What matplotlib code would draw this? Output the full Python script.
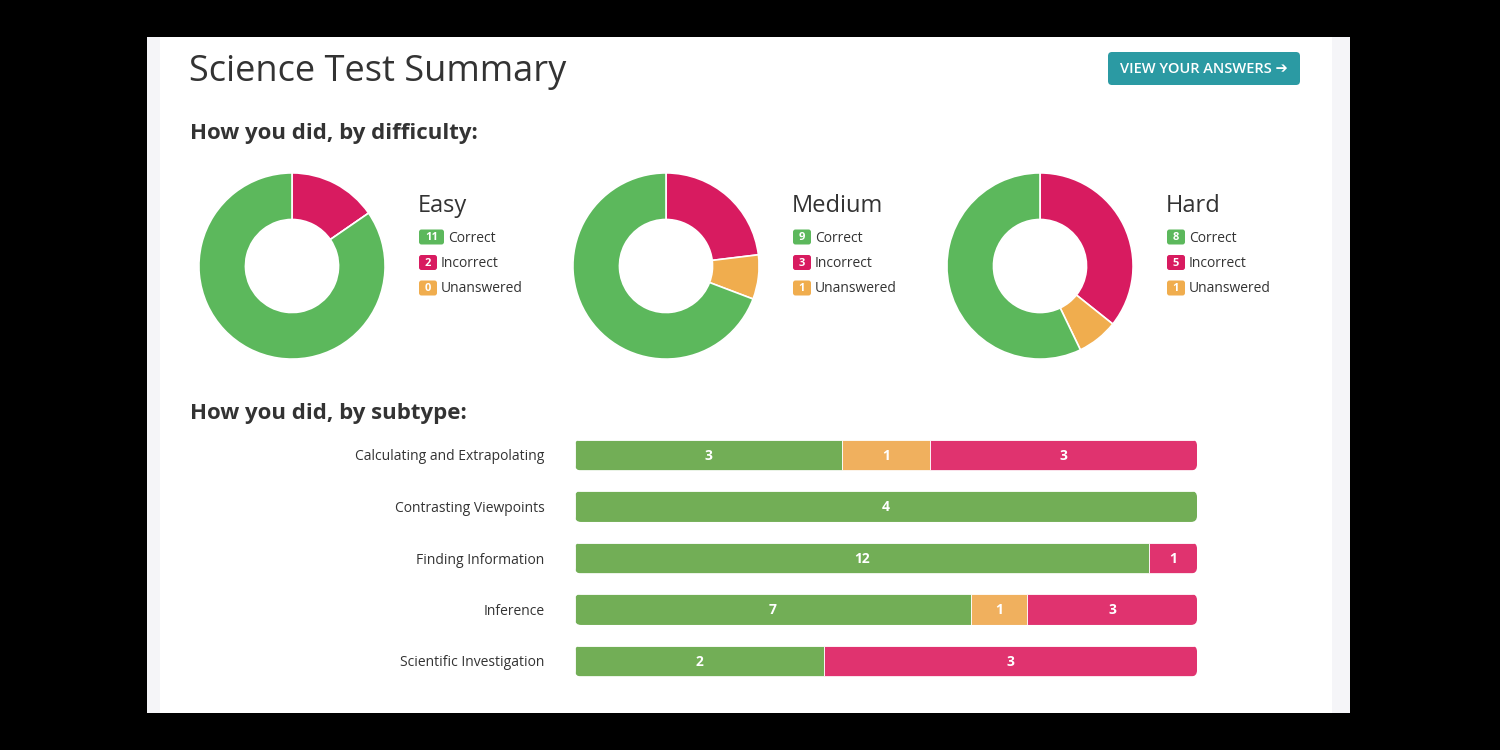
import numpy as np
import matplotlib.pyplot as plt
from matplotlib.patches import FancyBboxPatch, Rectangle

plt.rcParams['font.family'] = ['Open Sans', 'DejaVu Sans']

# data
levels = ['Easy', 'Medium', 'Hard']
correct = [11, 9, 8]
incorrect = [2, 3, 5]
unanswered = [0, 1, 1]

subtypes = ['Calculating and Extrapolating', 'Contrasting Viewpoints',
            'Finding Information', 'Inference', 'Scientific Investigation']
sub_correct = [3, 4, 12, 7, 2]
sub_unanswered = [1, 0, 0, 1, 0]
sub_incorrect = [3, 0, 1, 3, 3]

GREEN = '#5cb85c'
RED = '#d81b60'
ORANGE = '#f0ad4e'
BAR_GREEN = '#72ae56'
BAR_RED = '#e0336f'
BAR_ORANGE = '#f0b05e'
TXT = '#333333'

W, H = 1500, 750
fig = plt.figure(figsize=(15, 7.5), dpi=100, facecolor='black')

# background / page layer in pixel coords
bg = fig.add_axes([0, 0, 1, 1])
bg.set_xlim(0, W)
bg.set_ylim(H, 0)
bg.axis('off')
bg.add_patch(Rectangle((147, 37), 1203, 676, fc='white', ec='none'))
bg.add_patch(Rectangle((147, 37), 13, 676, fc='#f5f5f8', ec='none'))
bg.add_patch(Rectangle((1332, 37), 18, 676, fc='#f5f5f8', ec='none'))

bg.text(189, 72, 'Science Test Summary', fontsize=26, color=TXT, va='center')

bg.add_patch(FancyBboxPatch((1108, 52), 192, 33, boxstyle='round,pad=0,rounding_size=4',
                            fc='#2b9aa3', ec='none'))
bg.text(1204, 69, 'VIEW YOUR ANSWERS \u2794', fontsize=10.5, color='white',
        weight='semibold', ha='center', va='center')

bg.text(190, 133, 'How you did, by difficulty:', fontsize=16, weight='bold',
        color=TXT, va='center')
bg.text(190, 414, 'How you did, by subtype:', fontsize=16, weight='bold',
        color=TXT, va='center')

# donuts
centers = [292, 666, 1040]
cy, R = 266, 94
for i, name in enumerate(levels):
    cx = centers[i]
    ax = fig.add_axes([(cx - R) / W, 1 - (cy + R) / H, 2 * R / W, 2 * R / H])
    ax.pie([incorrect[i], unanswered[i], correct[i]], colors=[RED, ORANGE, GREEN],
           startangle=90, counterclock=False, radius=1,
           wedgeprops=dict(width=0.5, edgecolor='white', linewidth=1.2))
    ax.set_xlim(-1.01, 1.01)
    ax.set_ylim(-1.01, 1.01)

    lx = cx + 127
    bg.text(lx - 1, 206, name, fontsize=17, color=TXT, va='center')
    rows = [(correct[i], 'Correct', GREEN), (incorrect[i], 'Incorrect', RED),
            (unanswered[i], 'Unanswered', ORANGE)]
    for j, (v, lab, col) in enumerate(rows):
        ry = 237 + j * 25.5
        bw = 11 + 7 * len(str(v))
        bg.add_patch(FancyBboxPatch((lx, ry - 7.5), bw, 15,
                                    boxstyle='round,pad=0,rounding_size=2.5',
                                    fc=col, ec='none'))
        bg.text(lx + bw / 2, ry + 0.5, str(v), fontsize=8, weight='bold', color='white',
                ha='center', va='center')
        bg.text(lx + bw + 4, ry + 1, lab, fontsize=10, color=TXT, va='center')

# stacked bars
x0, x1 = 575, 1197
step = 51.5
top = 455 - step / 2
bh = 0.6
bax = fig.add_axes([x0 / W, 1 - (top + 5 * step) / H, (x1 - x0) / W, 5 * step / H])
bax.set_xlim(0, 1)
bax.set_ylim(4.5, -0.5)
ypos = np.arange(len(subtypes))
tot = np.array(sub_correct) + np.array(sub_unanswered) + np.array(sub_incorrect)
c = np.array(sub_correct) / tot
u = np.array(sub_unanswered) / tot
r = np.array(sub_incorrect) / tot
segs = [(c, np.zeros_like(c), BAR_GREEN, sub_correct),
        (u, c, BAR_ORANGE, sub_unanswered),
        (r, c + u, BAR_RED, sub_incorrect)]

clips = []
for k in range(len(subtypes)):
    p = FancyBboxPatch((0, k - bh / 2), 1, bh,
                       boxstyle='round,pad=0,rounding_size=%f' % (6 / (x1 - x0)),
                       mutation_aspect=(x1 - x0) / step,
                       transform=bax.transData, fc='none', ec='none')
    bax.add_patch(p)
    clips.append(p)

for w, left, col, vals in segs:
    bars = bax.barh(ypos, w, left=left, height=bh, color=col,
                    edgecolor='white', linewidth=0.6)
    for k, b in enumerate(bars):
        b.set_clip_path(clips[k])
        if vals[k] > 0:
            bax.text(left[k] + w[k] / 2, k + 0.01, str(vals[k]), ha='center', va='center',
                     color='white', weight='bold', fontsize=10)

bax.set_yticks(ypos, subtypes)
bax.set_xticks([])
bax.tick_params(axis='y', length=0, pad=22, labelsize=10, labelcolor=TXT)
for s in bax.spines.values():
    s.set_visible(False)
bax.patch.set_alpha(0)

fig.savefig('out.png', dpi=100)
